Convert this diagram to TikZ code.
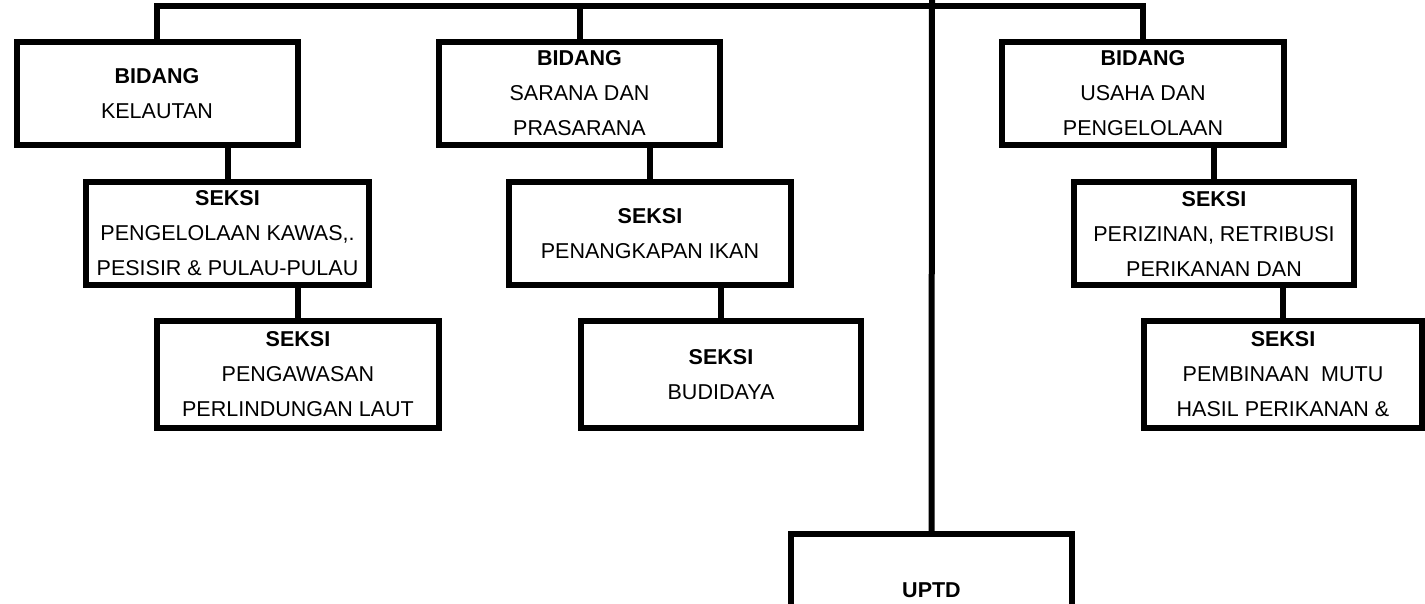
\documentclass[tikz,border=0pt]{standalone}
\usepackage{fontspec}
\setmainfont{Liberation Sans}
\begin{document}
\begin{tikzpicture}[x=1pt,y=-1pt,
  box/.style={draw,line width=6pt,inner sep=0pt,minimum height=103pt,align=center,
    font=\fontsize{21.5}{35}\selectfont},
  link/.style={line width=6pt}]
\useasboundingbox (0,0) rectangle (1425,604);
\clip (0,0) rectangle (1425,604);
% Bidang
\node[box,minimum width=281pt] (b1) at (157,93.5) {\textbf{BIDANG}\\KELAUTAN};
\node[box,minimum width=281pt] (b2) at (579.5,93.5) {\textbf{BIDANG}\\SARANA DAN\\PRASARANA};
\node[box,minimum width=282pt] (b3) at (1143,93.5) {\textbf{BIDANG}\\USAHA DAN\\PENGELOLAAN};
% Seksi row 1
\node[box,minimum width=283pt] (s1) at (227.5,233.5) {\textbf{SEKSI}\\PENGELOLAAN KAWAS,.\\PESISIR \& PULAU-PULAU};
\node[box,minimum width=282pt] (s2) at (650,233.5) {\textbf{SEKSI}\\PENANGKAPAN IKAN};
\node[box,minimum width=280pt] (s3) at (1214,233.5) {\textbf{SEKSI}\\PERIZINAN, RETRIBUSI\\PERIKANAN DAN};
% Seksi row 2
\node[box,minimum width=282pt,minimum height=107pt] (s4) at (298,374.5) {\textbf{SEKSI}\\PENGAWASAN\\PERLINDUNGAN LAUT};
\node[box,minimum width=280pt,minimum height=107pt] (s5) at (721,374.5) {\textbf{SEKSI}\\BUDIDAYA};
\node[box,minimum width=278pt,minimum height=107pt] (s6) at (1283,374.5) {\textbf{SEKSI}\\PEMBINAAN\ \ MUTU\\HASIL PERIKANAN \&};
% UPTD
\node[box,minimum width=281pt,minimum height=113pt] (u) at (931.5,590.5) {\textbf{UPTD}};
% connectors
\coordinate (tl) at (157,6);
\coordinate (tr) at (1143,6);
\coordinate (top) at (932,-3);
\draw[link] (b1.north) -- (tl) -- (tr) -- (b3.north);
\draw[link] (b2.north) -- (b2.north |- tl);
\draw[link] (top) -- (u.north);
\draw[link] (s1.north) -- (s1.north |- b1.south);
\draw[link] (s2.north) -- (s2.north |- b2.south);
\draw[link] (s3.north) -- (s3.north |- b3.south);
\draw[link] (s4.north) -- (s4.north |- s1.south);
\draw[link] (s5.north) -- (s5.north |- s2.south);
\draw[link] (s6.north) -- (s6.north |- s3.south);
\end{tikzpicture}
\end{document}
